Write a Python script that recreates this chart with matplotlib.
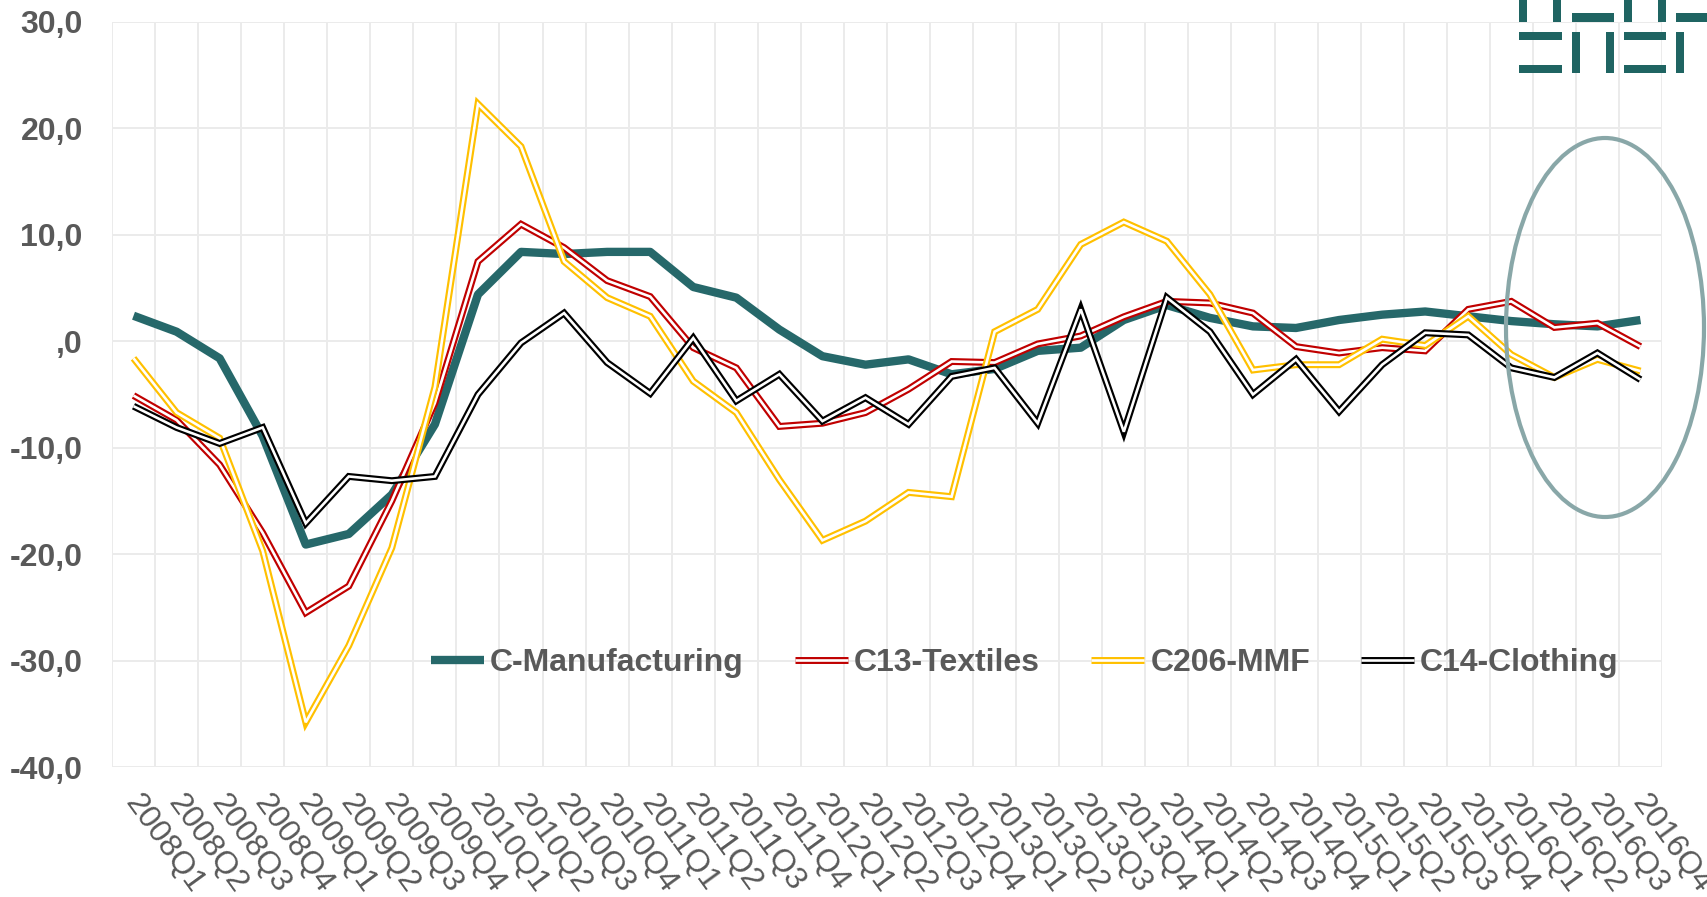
import matplotlib
matplotlib.use("Agg")
import matplotlib.pyplot as plt
from matplotlib.patches import Ellipse, Rectangle
from matplotlib.legend_handler import HandlerTuple
from matplotlib.transforms import ScaledTranslation
import numpy as np

# ---------------- data ----------------
quarters = [f"{y}Q{q}" for y in range(2008, 2017) for q in range(1, 5)]

manufacturing = [2.4, 0.9, -1.6, -8.9, -19.1, -18.1, -14.4, -7.8,
                 4.4, 8.4, 8.2, 8.4, 8.4, 5.1, 4.1, 1.1,
                 -1.4, -2.2, -1.7, -3.1, -2.6, -0.9, -0.6, 2.0,
                 3.4, 2.2, 1.4, 1.25, 2.0, 2.5, 2.8, 2.35,
                 1.9, 1.6, 1.4, 2.0]

textiles = [-5.1, -7.4, -11.6, -18.0, -25.5, -23.0, -15.0, -5.8,
            7.5, 11.0, 8.8, 5.7, 4.2, -0.6, -2.5, -8.0,
            -7.7, -6.7, -4.5, -1.9, -2.0, -0.25, 0.5, 2.3,
            3.75, 3.6, 2.65, -0.5, -1.1, -0.6, -0.9, 3.0,
            3.75, 1.3, 1.7, -0.5]

mmf = [-1.6, -6.7, -9.1, -19.7, -35.8, -28.6, -19.4, -4.3,
       22.3, 18.3, 7.5, 4.1, 2.35, -3.75, -6.7, -13.0,
       -18.7, -16.9, -14.2, -14.6, 0.9, 3.0, 9.1, 11.2,
       9.4, 4.4, -2.7, -2.2, -2.2, 0.2, -0.4, 2.35,
       -1.25, -3.4, -1.7, -2.8]

clothing = [-6.1, -8.1, -9.6, -8.1, -17.1, -12.7, -13.1, -12.7,
            -5.0, -0.15, 2.65, -2.0, -4.9, 0.3, -5.6, -3.1,
            -7.5, -5.3, -7.8, -3.3, -2.5, -7.7, 3.0, -8.5,
            4.1, 0.9, -5.0, -1.7, -6.6, -2.2, 0.8, 0.6,
            -2.5, -3.4, -1.1, -3.6]

series_names = ["C-Manufacturing", "C13-Textiles", "C206-MMF", "C14-Clothing"]
y_ticks = [-40, -30, -20, -10, 0, 10, 20, 30]
y_tick_labels = ["-40,0", "-30,0", "-20,0", "-10,0", ",0", "10,0", "20,0", "30,0"]

# ---------------- styling ----------------
W, H = 1707, 897
DPI = 100
TEXT = "#595959"
TEAL = "#26686a"
RED = "#c00000"
YELLOW = "#ffc000"
BLACK = "#000000"
GRID = "#ebebeb"

fig = plt.figure(figsize=(W / DPI, H / DPI), dpi=DPI)
ax = fig.add_axes([112 / W, 1 - 767 / H, 1550 / W, 745 / H])

x = np.arange(len(quarters))

ax.set_xlim(-0.5, len(quarters) - 0.5)
ax.set_ylim(-40, 30)

# grid
for yv in y_ticks:
    ax.axhline(yv, color=GRID, lw=1.4, zorder=0)
for xb in np.arange(-0.5, len(quarters) + 0.5, 1.0):
    ax.axvline(xb, color=GRID, lw=1.4, zorder=0)
for s in ax.spines.values():
    s.set_visible(False)

# main series
l_man, = ax.plot(x, manufacturing, color=TEAL, lw=6.0, solid_joinstyle="round",
                 solid_capstyle="butt", zorder=2)

def double_line(vals, color, z):
    outer, = ax.plot(x, vals, color=color, lw=5.0, solid_joinstyle="miter",
                     solid_capstyle="butt", zorder=z)
    inner, = ax.plot(x, vals, color="white", lw=1.9, solid_joinstyle="miter",
                     solid_capstyle="butt", zorder=z + 0.1)
    return (outer, inner)

h_tex = double_line(textiles, RED, 3)
h_mmf = double_line(mmf, YELLOW, 4)
h_clo = double_line(clothing, BLACK, 5)

# y ticks
ax.set_yticks(y_ticks)
ax.set_yticklabels(y_tick_labels)
ax.tick_params(axis="y", length=0, pad=21, labelsize=23, labelcolor=TEXT)
for lab in ax.get_yticklabels():
    lab.set_fontweight("bold")
    lab.set_fontfamily("Liberation Sans")

# x ticks
ax.set_xticks(x)
ax.set_xticklabels(quarters, rotation=-54, ha="left", va="top",
                   rotation_mode="anchor")
ax.tick_params(axis="x", length=0, pad=16, labelsize=23, labelcolor=TEXT)
offset = ScaledTranslation(9 / DPI, 0, fig.dpi_scale_trans)
for lab in ax.get_xticklabels():
    lab.set_fontfamily("Liberation Sans")
    lab.set_transform(lab.get_transform() + offset)

# legend
leg = ax.legend([l_man, h_tex, h_mmf, h_clo], series_names,
                handler_map={tuple: HandlerTuple(ndivide=1)},
                loc="center", bbox_to_anchor=(0.589, 0.140), ncol=4,
                frameon=False, handlelength=1.65, handletextpad=0.2,
                columnspacing=1.6,
                prop={"family": "Liberation Sans", "weight": "bold", "size": 23})
for t in leg.get_texts():
    t.set_color(TEXT)

# ellipse highlight
def fx(px):
    return px / W

def fy(py):
    return 1 - py / H

ell = Ellipse((fx(1605), fy(327.5)), 198 / W, 379 / H, transform=fig.transFigure,
              fill=False, edgecolor="#89a7a8", lw=3.0, zorder=10)
fig.patches.append(ell)

# logo (decorative blocks)
LOGO = "#1f6462"
logo_blocks = [
    (1519, 0, 1527, 22), (1553, 0, 1561, 22), (1572, 13, 1614, 22),
    (1624, 0, 1632, 22), (1658, 0, 1666, 22), (1676, 13, 1707, 22),
    (1519, 32, 1562, 40), (1572, 32, 1580, 73), (1606, 32, 1614, 73),
    (1624, 32, 1666, 40), (1676, 32, 1684, 73),
    (1519, 65, 1562, 73), (1624, 65, 1666, 73),
]
for (x0, y0, x1, y1) in logo_blocks:
    fig.patches.append(Rectangle((fx(x0), fy(y1)), (x1 - x0) / W, (y1 - y0) / H,
                                 transform=fig.transFigure, color=LOGO,
                                 lw=0, zorder=11))

fig.savefig("out.png", dpi=DPI, facecolor="white")
